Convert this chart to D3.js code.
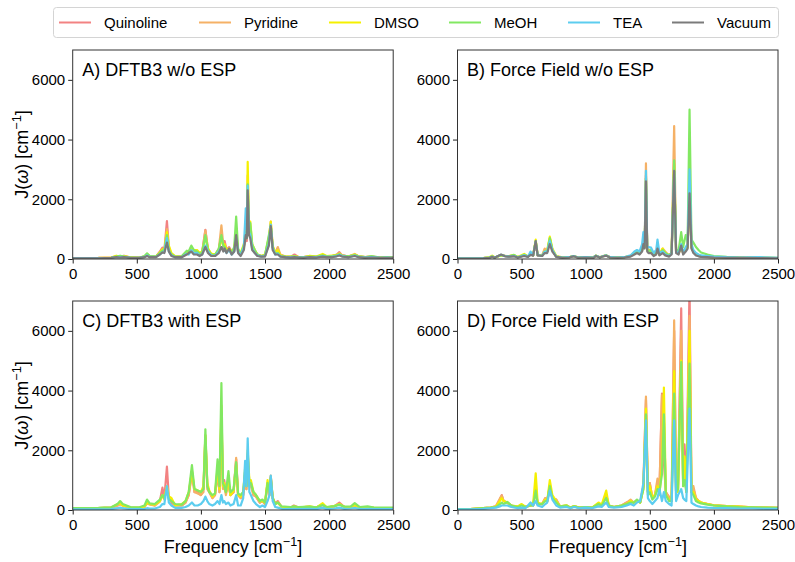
<!DOCTYPE html>
<html>
<head>
<meta charset="utf-8">
<script src="https://cdn.jsdelivr.net/npm/d3@7"></script>
<style>
  body { margin: 0; background: #fff; }
  text { font-family: "Liberation Sans", Arial, Helvetica, sans-serif; }
</style>
</head>
<body>
<div id="chart"></div>
<script>
// Solvents, in drawing order (Vacuum last, on top)
const seriesNames = ["Quinoline", "Pyridine", "DMSO", "MeOH", "TEA", "Vacuum"];
const seriesColors = ["#f28282", "#f5b166", "#f5f000", "#82e862", "#5ccdef", "#7b7b7b"];
const xTicks = [0, 500, 1000, 1500, 2000, 2500];
const yTicks = [0, 2000, 4000, 6000];
const panelTitles = ["A) DFTB3 w/o ESP", "B) Force Field w/o ESP", "C) DFTB3 with ESP", "D) Force Field with ESP"];

// freq, Quinoline, Pyridine, DMSO, MeOH, TEA, Vacuum
const spectrumA = [
  [0, 30, 30, 30, 30, 30, 20], [100, 30, 30, 30, 30, 30, 20], [200, 35, 30, 35, 30, 30, 25],
  [300, 50, 45, 50, 40, 40, 35], [340, 90, 80, 110, 80, 60, 60], [370, 70, 70, 80, 110, 60, 50],
  [400, 110, 90, 100, 80, 70, 60], [450, 50, 50, 60, 50, 40, 40], [520, 50, 40, 50, 40, 40, 40],
  [560, 80, 70, 80, 100, 60, 60], [580, 150, 130, 160, 190, 120, 100], [600, 90, 80, 100, 100, 70, 60],
  [650, 80, 80, 90, 80, 70, 60], [680, 250, 200, 220, 200, 150, 150], [700, 380, 300, 330, 280, 220, 220],
  [715, 300, 250, 300, 300, 250, 200], [735, 1270, 1000, 900, 800, 700, 550], [750, 400, 350, 450, 300, 250, 250],
  [770, 150, 150, 200, 150, 120, 100], [800, 80, 80, 90, 80, 60, 60], [850, 80, 70, 80, 90, 60, 60],
  [890, 200, 220, 250, 280, 180, 150], [905, 250, 200, 200, 250, 150, 200], [925, 350, 400, 380, 450, 300, 250],
  [945, 200, 250, 300, 300, 200, 150], [970, 250, 280, 300, 250, 200, 150], [990, 150, 180, 200, 180, 120, 100],
  [1010, 250, 200, 250, 220, 150, 150], [1035, 980, 950, 750, 800, 450, 400], [1055, 300, 350, 350, 300, 250, 200],
  [1080, 150, 150, 180, 150, 120, 100], [1110, 150, 120, 150, 130, 100, 100], [1140, 300, 350, 300, 350, 250, 200],
  [1160, 800, 1130, 700, 800, 400, 400], [1175, 400, 450, 450, 450, 300, 250], [1185, 600, 450, 500, 400, 300, 350],
  [1200, 300, 300, 300, 250, 200, 200], [1220, 400, 350, 350, 300, 300, 350], [1240, 250, 200, 250, 200, 150, 150],
  [1260, 300, 300, 350, 400, 250, 250], [1275, 800, 900, 900, 1420, 700, 800], [1290, 250, 300, 300, 350, 250, 200],
  [1310, 150, 150, 200, 150, 120, 100], [1335, 400, 400, 500, 450, 400, 300], [1350, 800, 900, 1000, 900, 1700, 800],
  [1358, 600, 700, 800, 700, 1000, 700], [1365, 2200, 2800, 3250, 2500, 2450, 2300], [1375, 800, 900, 1100, 1000, 900, 800],
  [1385, 900, 1000, 1250, 1200, 800, 700], [1400, 400, 450, 500, 500, 350, 300], [1420, 250, 300, 300, 300, 200, 200],
  [1440, 150, 150, 150, 150, 120, 100], [1470, 100, 100, 100, 100, 80, 80], [1500, 120, 100, 150, 120, 100, 80],
  [1530, 600, 700, 700, 800, 500, 450], [1545, 1100, 1250, 1250, 1100, 1150, 1100], [1560, 400, 400, 450, 400, 350, 300],
  [1580, 200, 200, 200, 180, 150, 150], [1600, 300, 400, 300, 200, 180, 150], [1620, 120, 150, 120, 100, 80, 80],
  [1660, 80, 80, 80, 80, 60, 60], [1700, 70, 70, 80, 70, 60, 50], [1730, 150, 100, 100, 90, 70, 60],
  [1760, 70, 60, 70, 60, 50, 50], [1800, 60, 60, 60, 60, 50, 40], [1850, 90, 80, 110, 80, 60, 60],
  [1900, 70, 70, 80, 70, 60, 50], [1950, 120, 130, 170, 120, 100, 80], [1980, 80, 80, 100, 90, 70, 60],
  [2020, 100, 100, 110, 90, 70, 60], [2060, 150, 130, 140, 120, 100, 90], [2080, 230, 200, 180, 160, 140, 120],
  [2100, 130, 120, 110, 110, 100, 80], [2150, 80, 80, 80, 90, 60, 60], [2200, 140, 170, 150, 130, 110, 100],
  [2230, 90, 90, 90, 90, 70, 60], [2280, 60, 60, 60, 60, 50, 40], [2330, 80, 80, 70, 100, 60, 50],
  [2400, 50, 50, 50, 50, 40, 40], [2450, 60, 60, 60, 60, 50, 40], [2500, 50, 50, 50, 50, 40, 40]
];

const spectrumB = [
  [0, 20, 20, 20, 20, 20, 15], [100, 20, 20, 20, 20, 20, 15], [200, 30, 30, 30, 30, 30, 25],
  [250, 50, 50, 60, 50, 50, 40], [270, 80, 100, 110, 80, 80, 70], [290, 50, 50, 50, 50, 50, 40],
  [340, 130, 130, 120, 130, 140, 150], [370, 100, 110, 100, 100, 100, 90], [400, 80, 90, 100, 90, 80, 80],
  [440, 100, 120, 130, 140, 100, 90], [470, 60, 60, 70, 60, 60, 50], [520, 120, 130, 170, 140, 120, 100],
  [550, 80, 90, 90, 80, 80, 70], [570, 150, 160, 150, 160, 250, 140], [590, 120, 120, 130, 120, 130, 110],
  [610, 550, 600, 650, 600, 580, 600], [625, 120, 130, 140, 130, 130, 120], [660, 100, 110, 120, 110, 100, 100],
  [680, 300, 350, 250, 250, 250, 200], [700, 250, 250, 300, 250, 250, 200], [720, 650, 700, 750, 700, 600, 500],
  [740, 300, 300, 350, 300, 300, 250], [770, 80, 80, 100, 80, 80, 70], [820, 50, 50, 60, 50, 50, 40],
  [870, 60, 60, 60, 60, 60, 50], [905, 100, 100, 100, 100, 100, 90], [940, 50, 50, 50, 50, 50, 40],
  [1000, 60, 60, 60, 60, 60, 50], [1060, 50, 50, 60, 50, 50, 40], [1080, 110, 110, 110, 110, 110, 100],
  [1110, 60, 60, 60, 60, 60, 50], [1140, 100, 100, 100, 100, 100, 90], [1160, 120, 120, 120, 120, 120, 110],
  [1190, 60, 60, 60, 60, 60, 50], [1250, 50, 50, 50, 50, 50, 40], [1300, 60, 60, 60, 60, 60, 50],
  [1350, 100, 100, 110, 100, 120, 80], [1380, 200, 200, 220, 200, 250, 150], [1400, 250, 250, 260, 250, 300, 200],
  [1420, 180, 180, 200, 180, 250, 150], [1440, 300, 300, 300, 300, 500, 250], [1450, 600, 600, 500, 500, 900, 500],
  [1460, 400, 400, 400, 400, 500, 350], [1470, 2800, 3200, 2700, 2700, 2950, 2600], [1480, 300, 300, 300, 300, 400, 250],
  [1490, 250, 300, 250, 250, 400, 200], [1510, 300, 300, 300, 300, 380, 200], [1530, 150, 150, 150, 150, 200, 100],
  [1550, 200, 200, 200, 200, 300, 150], [1560, 300, 300, 350, 300, 650, 350], [1575, 150, 150, 150, 150, 200, 120],
  [1600, 300, 350, 350, 300, 250, 200], [1620, 200, 250, 200, 200, 150, 120], [1650, 120, 120, 120, 120, 100, 80],
  [1670, 200, 200, 200, 200, 180, 150], [1690, 3000, 4450, 3200, 3300, 2950, 2950], [1705, 250, 250, 250, 300, 250, 200],
  [1725, 200, 200, 200, 300, 200, 150], [1745, 400, 400, 400, 900, 500, 450], [1760, 200, 200, 200, 400, 200, 150],
  [1780, 300, 300, 300, 800, 400, 250], [1795, 400, 400, 400, 600, 500, 350], [1810, 2500, 2500, 2500, 5000, 3000, 2200],
  [1825, 400, 400, 400, 650, 500, 350], [1840, 250, 250, 250, 550, 300, 200], [1860, 150, 150, 150, 400, 200, 120],
  [1880, 110, 110, 110, 300, 150, 90], [1900, 90, 90, 90, 220, 120, 70], [1950, 70, 70, 70, 150, 100, 60],
  [2000, 60, 60, 60, 100, 80, 50], [2100, 50, 50, 50, 70, 60, 40], [2200, 40, 40, 40, 50, 50, 35],
  [2350, 40, 40, 40, 50, 60, 30], [2500, 30, 30, 30, 40, 40, 25]
];

// freq, Quinoline, Pyridine, DMSO, MeOH, TEA (no vacuum run with ESP)
const spectrumC = [
  [0, 50, 50, 50, 60, 20], [100, 50, 50, 50, 60, 20], [200, 60, 60, 60, 70, 25], [300, 80, 80, 80, 90, 30],
  [350, 150, 150, 200, 200, 60], [370, 200, 200, 220, 300, 80], [390, 150, 150, 150, 200, 60], [450, 80, 80, 80, 100, 30],
  [520, 70, 70, 70, 90, 30], [560, 100, 100, 120, 150, 40], [580, 250, 220, 250, 350, 60], [600, 200, 180, 200, 220, 50],
  [640, 150, 150, 180, 200, 50], [680, 300, 280, 300, 350, 100], [700, 750, 500, 500, 500, 200], [715, 400, 350, 400, 400, 200],
  [735, 1450, 800, 800, 700, 800], [750, 400, 400, 450, 350, 250], [770, 250, 300, 400, 300, 150], [800, 150, 150, 150, 200, 70],
  [850, 150, 150, 200, 180, 70], [880, 250, 250, 300, 300, 100], [905, 500, 500, 600, 600, 150], [930, 1300, 1200, 1300, 1500, 250],
  [950, 600, 600, 700, 700, 150], [975, 600, 550, 650, 650, 150], [1000, 500, 500, 600, 600, 200], [1020, 700, 600, 800, 700, 300],
  [1035, 2500, 2400, 2500, 2700, 450], [1050, 800, 700, 900, 800, 300], [1065, 600, 600, 650, 600, 200], [1090, 400, 400, 450, 500, 150],
  [1110, 500, 500, 550, 550, 200], [1130, 1200, 1300, 1400, 1700, 300], [1145, 600, 600, 700, 800, 200], [1160, 3000, 3200, 3500, 4250, 500],
  [1172, 800, 700, 800, 900, 250], [1182, 1000, 800, 900, 800, 300], [1195, 600, 500, 600, 600, 200], [1215, 900, 900, 1000, 1300, 250],
  [1230, 500, 500, 500, 600, 150], [1255, 600, 600, 650, 700, 200], [1275, 1700, 1750, 1500, 1600, 500], [1290, 500, 500, 500, 550, 150],
  [1310, 400, 400, 450, 500, 150], [1330, 500, 500, 600, 600, 400], [1345, 1200, 1200, 1400, 1300, 1650], [1355, 700, 700, 800, 800, 800],
  [1365, 1800, 1900, 2000, 1800, 2400], [1378, 800, 900, 1000, 900, 600], [1390, 900, 800, 1000, 900, 500], [1410, 500, 500, 600, 600, 300],
  [1430, 450, 450, 500, 500, 200], [1460, 250, 250, 300, 300, 100], [1480, 300, 300, 300, 350, 150], [1500, 200, 200, 250, 250, 100],
  [1520, 900, 900, 1000, 900, 300], [1535, 500, 500, 600, 600, 500], [1545, 1100, 1150, 1100, 1050, 1150], [1560, 400, 400, 400, 400, 300],
  [1580, 200, 200, 200, 200, 100], [1600, 300, 250, 250, 250, 80], [1630, 100, 100, 100, 120, 40], [1700, 80, 80, 80, 100, 30],
  [1725, 150, 120, 120, 120, 40], [1760, 80, 80, 80, 100, 30], [1850, 110, 100, 120, 110, 40], [1900, 80, 80, 80, 90, 30],
  [1950, 180, 170, 230, 170, 80], [1980, 80, 80, 90, 100, 30], [2040, 120, 120, 130, 130, 50], [2080, 250, 200, 200, 180, 80],
  [2120, 100, 100, 100, 110, 40], [2170, 100, 100, 100, 120, 50], [2200, 170, 160, 170, 230, 70], [2240, 80, 80, 80, 100, 30],
  [2300, 90, 90, 90, 120, 40], [2350, 70, 70, 70, 80, 30], [2420, 60, 60, 60, 80, 30], [2500, 60, 60, 60, 80, 30]
];

const spectrumD = [
  [0, 30, 30, 30, 30, 20], [100, 30, 30, 30, 30, 20], [200, 60, 60, 60, 60, 40], [260, 80, 80, 80, 80, 60],
  [300, 120, 130, 110, 100, 80], [330, 350, 380, 300, 200, 120], [345, 500, 480, 400, 250, 150], [360, 300, 300, 300, 200, 150],
  [390, 250, 230, 250, 270, 150], [420, 150, 150, 150, 150, 100], [470, 100, 100, 120, 100, 60], [500, 180, 180, 200, 150, 80],
  [530, 100, 100, 110, 100, 60], [570, 150, 150, 150, 150, 250], [590, 150, 150, 200, 150, 150], [610, 700, 800, 1230, 650, 300],
  [625, 200, 200, 250, 200, 150], [660, 200, 200, 200, 200, 100], [685, 400, 400, 350, 300, 200], [700, 300, 300, 300, 300, 250],
  [720, 800, 850, 1000, 800, 650], [740, 400, 400, 500, 400, 350], [770, 350, 350, 300, 250, 150], [800, 120, 120, 120, 120, 80],
  [850, 150, 140, 160, 150, 100], [880, 80, 80, 80, 80, 60], [910, 120, 120, 130, 120, 100], [950, 80, 80, 80, 80, 60],
  [1000, 100, 100, 100, 100, 80], [1050, 80, 80, 80, 80, 60], [1100, 200, 200, 250, 200, 120], [1125, 150, 150, 180, 150, 100],
  [1160, 500, 500, 650, 400, 250], [1180, 150, 150, 150, 150, 100], [1220, 100, 100, 100, 100, 80], [1280, 150, 150, 150, 150, 100],
  [1320, 250, 250, 200, 200, 150], [1350, 300, 350, 300, 250, 200], [1375, 250, 250, 250, 250, 150], [1400, 300, 300, 300, 350, 250],
  [1425, 250, 250, 250, 250, 300], [1450, 800, 800, 700, 700, 900], [1470, 3700, 3800, 3400, 3200, 3000], [1485, 600, 600, 600, 500, 400],
  [1500, 900, 900, 800, 600, 300], [1520, 400, 400, 400, 350, 200], [1540, 500, 500, 500, 450, 300], [1560, 900, 1050, 800, 700, 400],
  [1575, 600, 600, 500, 600, 700], [1595, 3900, 3850, 1500, 1200, 300], [1610, 1600, 3000, 4100, 3200, 600], [1625, 600, 600, 500, 500, 300],
  [1650, 400, 450, 350, 300, 200], [1670, 300, 300, 300, 300, 150], [1690, 6000, 6350, 4650, 3900, 3000], [1705, 600, 600, 600, 600, 300],
  [1720, 700, 700, 600, 700, 500], [1745, 6750, 6000, 5000, 4950, 700], [1760, 1000, 800, 900, 800, 400], [1770, 2200, 1500, 1800, 1000, 350],
  [1785, 700, 600, 600, 600, 300], [1810, 7500, 6500, 6000, 4900, 3400], [1825, 600, 600, 600, 600, 250], [1840, 700, 800, 600, 500, 200],
  [1860, 400, 400, 350, 300, 150], [1880, 300, 300, 300, 250, 120], [1900, 250, 250, 250, 220, 100], [1950, 200, 200, 200, 180, 80],
  [2000, 160, 160, 160, 150, 70], [2100, 130, 130, 130, 120, 60], [2200, 110, 110, 110, 100, 50], [2300, 90, 90, 90, 90, 50],
  [2400, 80, 80, 80, 80, 40], [2500, 70, 70, 70, 70, 40]
];

const width = 795, height = 562;
const svg = d3.select("#chart").append("svg")
  .attr("width", width).attr("height", height);

const color = d3.scaleOrdinal().domain(seriesNames).range(seriesColors);

// panel boxes in pixels
const panels = [
  { rows: spectrumA, x: 72.7, y: 50, yLabel: true, xLabel: false },
  { rows: spectrumB, x: 457.5, y: 50, yLabel: false, xLabel: false },
  { rows: spectrumC, x: 72.7, y: 301, yLabel: true, xLabel: true },
  { rows: spectrumD, x: 457.5, y: 301, yLabel: false, xLabel: true }
];
const pw = 320.5, ph = 209;

const x = d3.scaleLinear().domain([0, 2500]).range([0, pw]);
const y = d3.scaleLinear().domain([0, 7000]).range([ph, 0]);

function addUnit(textSel, before) {
  textSel.append("tspan").text(before);
  textSel.append("tspan").attr("dy", -7).attr("font-size", "0.7em").text("\u22121");
  textSel.append("tspan").attr("dy", 7).text("]");
}

panels.forEach((p, k) => {
  const g = svg.append("g").attr("transform", `translate(${p.x},${p.y})`);
  g.append("clipPath").attr("id", "clip" + k)
    .append("rect").attr("width", pw).attr("height", ph);

  const nSeries = p.rows[0].length - 1;
  for (let i = 0; i < nSeries; i++) {
    const line = d3.line().x(r => x(r[0])).y(r => y(r[i + 1]));
    g.append("path")
      .datum(p.rows)
      .attr("clip-path", `url(#clip${k})`)
      .attr("fill", "none")
      .attr("stroke", color(seriesNames[i]))
      .attr("stroke-width", 2.2)
      .attr("stroke-linejoin", "round")
      .attr("d", line);
  }

  // axes
  const xa = g.append("g").attr("transform", `translate(0,${ph})`)
    .call(d3.axisBottom(x).tickValues(xTicks).tickSize(4.5).tickPadding(4.5).tickFormat(d3.format("d")));
  const ya = g.append("g")
    .call(d3.axisLeft(y).tickValues(yTicks).tickSize(4.5).tickPadding(3).tickFormat(d3.format("d")));
  [xa, ya].forEach(a => {
    a.select(".domain").remove();
    a.selectAll("line").attr("stroke", "#222").attr("stroke-width", 1);
    a.selectAll("text").attr("fill", "#000").attr("font-size", 15)
      .attr("font-family", '"Liberation Sans", Arial, sans-serif');
  });

  g.append("rect").attr("width", pw).attr("height", ph)
    .attr("fill", "none").attr("stroke", "#333").attr("stroke-width", 1);

  g.append("text").attr("x", 9.5).attr("y", 26)
    .attr("font-size", 18).attr("fill", "#000").text(panelTitles[k]);

  if (p.yLabel) {
    const t = svg.append("text")
      .attr("transform", `translate(28,${p.y + ph / 2}) rotate(-90)`)
      .attr("text-anchor", "middle").attr("font-size", 18).attr("fill", "#000");
    t.append("tspan").text("J(");
    t.append("tspan").attr("font-style", "italic").text("\u03c9");
    addUnit(t, ") [cm");
  }
  if (p.xLabel) {
    const t = svg.append("text")
      .attr("x", p.x + pw / 2).attr("y", 553)
      .attr("text-anchor", "middle").attr("font-size", 18).attr("fill", "#000");
    addUnit(t, "Frequency [cm");
  }
});

// legend across the top, one row
const legend = svg.append("g");
legend.append("rect")
  .attr("x", 53.5).attr("y", 7.5).attr("width", 725).attr("height", 30)
  .attr("rx", 3).attr("fill", "#fff").attr("stroke", "#d4d4d4");
const legendX = [59, 199, 329, 449, 568, 672];
seriesNames.forEach((name, i) => {
  const lx = legendX[i];
  legend.append("line")
    .attr("x1", lx).attr("x2", lx + 32).attr("y1", 22.5).attr("y2", 22.5)
    .attr("stroke", color(name)).attr("stroke-width", 2);
  legend.append("text")
    .attr("x", lx + 45).attr("y", 28).attr("font-size", 15).attr("fill", "#000").text(name);
});
</script>
</body>
</html>
